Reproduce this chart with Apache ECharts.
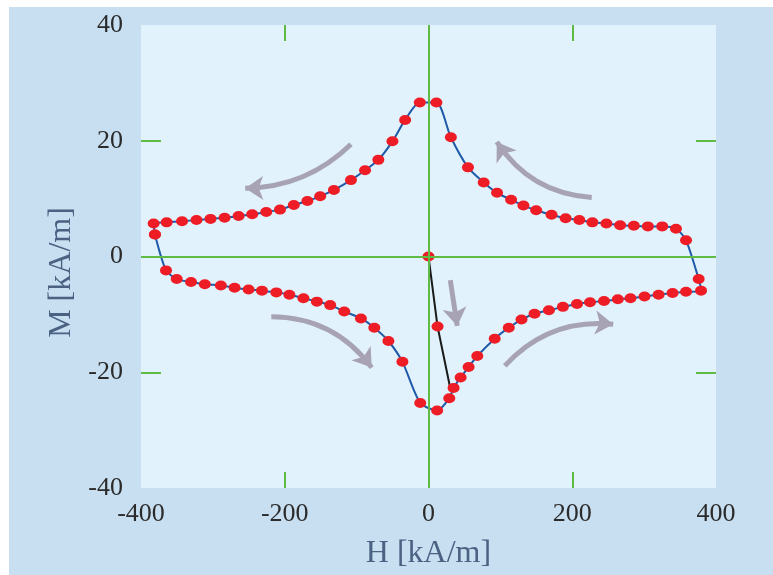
<!DOCTYPE html>
<html>
<head>
<meta charset="utf-8">
<title>M-H loop</title>
<script src="https://cdn.jsdelivr.net/npm/echarts@6/dist/echarts.min.js"></script>
<style>
    html, body { margin: 0; padding: 0; background: #fff; }
    #main { width: 773px; height: 575px; }
</style>
</head>
<body>
<div id="main"></div>
<script>
/* 轴刻度 */
var xTicks = [-400, -200, 0, 200, 400];
var yTicks = [-40, -20, 0, 20, 40];

/* 磁滞回线 H [kA/m] / M [kA/m] */
var loopH = [-380.6, -365.2, -350.3, -330.4, -311.2, -288.9, -269.8, -250.3, -231.7, -211.7,
    -193.6, -174.0, -155.3, -136.8, -117.2, -94.0, -75.4, -55.8, -36.3, -11.5,
    12.0, 28.9, 34.9, 44.7, 55.8, 67.9, 92.1, 111.7, 129.4, 147.5,
    167.5, 187.0, 206.6, 224.7, 244.2, 263.4, 281.0, 300.5, 320.1, 339.6,
    358.3, 379.2, 375.9, 358.3, 344.3, 325.2, 305.2, 285.7, 266.6, 247.5,
    228.0, 209.8, 190.8, 171.2, 149.8, 132.1, 114.9, 95.4, 76.8, 54.9,
    31.1, 11.0, -12.1, -32.5, -50.2, -69.8, -88.3, -107.9, -131.6, -150.7,
    -168.5, -187.4, -206.6, -225.7, -245.3, -264.2, -283.7, -303.3, -322.8, -342.9,
    -364.3, -382.4, -380.6];
var loopM = [3.8, -2.4, -3.9, -4.4, -4.8, -5.0, -5.4, -5.7, -5.9, -6.2,
    -6.6, -7.2, -7.8, -8.4, -9.5, -10.7, -12.3, -14.6, -18.2, -25.3,
    -26.6, -24.5, -22.7, -20.9, -19.1, -17.2, -14.2, -12.3, -10.9, -9.9,
    -9.3, -8.7, -8.2, -7.9, -7.7, -7.4, -7.2, -6.9, -6.6, -6.3,
    -6.1, -5.9, -3.9, 2.8, 4.8, 5.2, 5.2, 5.3, 5.4, 5.7,
    5.9, 6.3, 6.6, 7.2, 8.0, 8.8, 9.8, 11.0, 12.8, 15.4,
    20.6, 26.6, 26.6, 23.6, 19.9, 16.7, 14.9, 13.2, 11.5, 10.4,
    9.6, 8.9, 8.1, 7.7, 7.3, 7.0, 6.7, 6.5, 6.3, 6.1,
    5.9, 5.7, 3.8];

/* 初始磁化曲线 */
var virginH = [0, 12.6, 30.0];
var virginM = [0, -12.1, -22.6];

/* 方向箭头: 起点, 终点, 弯曲度 */
var arrowFrom = [[-107.9, 19.4], [227.1, 10.2], [-218.7, -10.4], [106.1, -18.9], [30.3, -4.1]];
var arrowTo = [[-255.0, 11.8], [95.0, 19.8], [-79.0, -19.2], [257.0, -11.7], [40.0, -12.0]];
var arrowBend = [0.2, 0.25, 0.25, 0.25, 0];

var green = '#5fba46';
var labelFont = 'Liberation Serif';

var initLoop = function () {
    var dom = document.getElementById('main');
    var myeCharts = echarts.init(dom);

    var loopData = loopH.map(function (h, i) {
        return [h, loopM[i]];
    });
    var virginData = virginH.map(function (h, i) {
        var item = {value: [h, virginM[i]]};
        if (i === virginH.length - 1) {
            item.symbol = 'none';
        }
        return item;
    });
    var arrowData = arrowFrom.map(function (p, i) {
        return {
            coords: [p, arrowTo[i]],
            lineStyle: {curveness: arrowBend[i]}
        };
    });

    var tickStyle = {color: green, width: 2};

    var option = {
        backgroundColor: '#ffffff',
        animation: false,
        graphic: [{
            type: 'rect',
            left: 9,
            top: 7,
            z: -10,
            silent: true,
            shape: {width: 764, height: 568},
            style: {fill: '#c7dff1'}
        }],
        grid: {
            left: 141,
            right: 57,
            top: 25,
            bottom: 87,
            show: true,
            backgroundColor: '#e1f2fc',
            borderWidth: 0
        },
        xAxis: [{
            type: 'value',
            min: xTicks[0],
            max: xTicks[xTicks.length - 1],
            interval: 200,
            name: 'H [kA/m]',
            nameLocation: 'middle',
            nameGap: 50,
            nameTextStyle: {fontFamily: labelFont, fontSize: 32, color: '#4b6283'},
            axisLine: {show: false, onZero: false},
            axisTick: {show: true, inside: true, length: 16, lineStyle: tickStyle, customValues: [-200, 200]},
            axisLabel: {fontFamily: labelFont, fontSize: 26, color: '#2b2b2b', margin: 13},
            splitLine: {show: false}
        }, {
            type: 'value',
            position: 'top',
            min: xTicks[0],
            max: xTicks[xTicks.length - 1],
            interval: 200,
            axisLine: {show: false, onZero: false},
            axisTick: {show: true, inside: true, length: 16, lineStyle: tickStyle, customValues: [-200, 200]},
            axisLabel: {show: false},
            splitLine: {show: false}
        }],
        yAxis: [{
            type: 'value',
            min: yTicks[0],
            max: yTicks[yTicks.length - 1],
            interval: 20,
            name: 'M [kA/m]',
            nameLocation: 'middle',
            nameGap: 62,
            nameRotate: 90,
            nameTextStyle: {fontFamily: labelFont, fontSize: 32, color: '#4b6283', padding: [0, 32, 0, 0]},
            axisLine: {show: false, onZero: false},
            axisTick: {show: true, inside: true, length: 20, lineStyle: tickStyle, customValues: [-20, 20]},
            axisLabel: {fontFamily: labelFont, fontSize: 26, color: '#2b2b2b', margin: 18},
            splitLine: {show: false}
        }, {
            type: 'value',
            position: 'right',
            min: yTicks[0],
            max: yTicks[yTicks.length - 1],
            interval: 20,
            axisLine: {show: false, onZero: false},
            axisTick: {show: true, inside: true, length: 20, lineStyle: tickStyle, customValues: [-20, 20]},
            axisLabel: {show: false},
            splitLine: {show: false}
        }],
        series: [
            {
                /* 零线 */
                type: 'line',
                data: [],
                z: 1,
                markLine: {
                    silent: true,
                    symbol: 'none',
                    label: {show: false},
                    lineStyle: {color: green, type: 'solid', width: 2},
                    data: [{xAxis: 0}, {yAxis: 0}]
                }
            },
            {
                type: 'lines',
                coordinateSystem: 'cartesian2d',
                z: 2,
                silent: true,
                symbol: ['none', 'arrow'],
                symbolSize: 18,
                lineStyle: {color: '#a8a3b4', width: 5, opacity: 1},
                data: arrowData
            },
            {
                name: 'virgin',
                type: 'line',
                z: 3,
                data: virginData,
                symbol: 'circle',
                symbolSize: [12, 10],
                lineStyle: {color: '#1a1a1a', width: 2},
                itemStyle: {color: '#ee1d25'}
            },
            {
                name: 'loop',
                type: 'line',
                z: 4,
                data: loopData,
                smooth: 0.25,
                symbol: 'circle',
                symbolSize: [12, 10],
                lineStyle: {color: '#1f5aa8', width: 2},
                itemStyle: {color: '#ee1d25'}
            }
        ]
    };
    myeCharts.setOption(option);
};

initLoop();
</script>
</body>
</html>
